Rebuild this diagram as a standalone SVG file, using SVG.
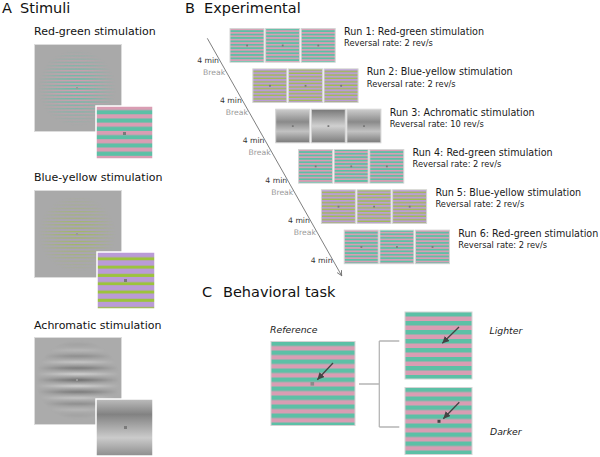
<svg xmlns="http://www.w3.org/2000/svg" width="600" height="457" viewBox="0 0 600 457">
<style>
text{font-family:"DejaVu Sans","Verdana",sans-serif;fill:#111}
.h{font-size:14.5px}
.s{font-size:11px}
.rt{font-size:9.6px;fill:#1a1a1a}
.rs{font-size:8.3px;fill:#1a1a1a}
.min{font-size:7.7px;fill:#333;text-anchor:end}
.brk{font-size:7.7px;fill:#999;text-anchor:end}
.it{font-size:9.3px;font-style:italic;fill:#222}
.thumb{stroke:#d4d4d4;stroke-width:1}
.big{stroke:#dcdcdc;stroke-width:1}
.sm{stroke:#fff;stroke-width:1.5}
.dot{fill:#777}
.tl{stroke:#707070;stroke-width:0.9;fill:none}
.br{stroke:#b5b5b5;stroke-width:1.3;fill:none}
.ar{stroke:#444;stroke-width:1.3;fill:none}
</style>
<defs>
<marker id="ah" markerUnits="userSpaceOnUse" markerWidth="8" markerHeight="7" refX="7" refY="3.5" orient="auto"><path d="M0,0 L7,3.5 L0,7 z" fill="#444"/></marker>
<marker id="ahT" markerUnits="userSpaceOnUse" markerWidth="6" markerHeight="6" refX="5" refY="3" orient="auto"><path d="M0,0.5 L5,3 L0,5.5" fill="none" stroke="#707070" stroke-width="0.9"/></marker>
<!-- A small squares -->
<pattern id="rgA" patternUnits="userSpaceOnUse" x="0" y="106" width="10" height="8.3"><rect width="10" height="8.3" fill="#d99db3"/><rect y="4.15" width="10" height="4.15" fill="#5cc0a6"/></pattern>
<pattern id="byA" patternUnits="userSpaceOnUse" x="0" y="252" width="10" height="8.3"><rect width="10" height="8.3" fill="#ba9bd7"/><rect y="5.3" width="10" height="3" fill="#9cc33c"/></pattern>
<!-- A gabor stripes -->
<pattern id="rgF" patternUnits="userSpaceOnUse" x="0" y="86.5" width="10" height="3.3"><rect width="10" height="3.3" fill="#a9a9a9"/><rect y="0" width="10" height="1.3" fill="#d99db3"/><rect y="1.65" width="10" height="1.3" fill="#5cc0a6"/></pattern>
<pattern id="byF" patternUnits="userSpaceOnUse" x="0" y="232.5" width="10" height="3.3"><rect width="10" height="3.3" fill="#ad9fc0"/><rect y="1.65" width="10" height="1.2" fill="#9cc33c"/></pattern>
<linearGradient id="sinG" x1="0" y1="0" x2="0" y2="1"><stop offset="0" stop-color="#d4d4d4"/><stop offset="0.5" stop-color="#6c6c6c"/><stop offset="1" stop-color="#d4d4d4"/></linearGradient>
<pattern id="achF" patternUnits="userSpaceOnUse" x="0" y="374" width="10" height="12"><rect width="10" height="12" fill="url(#sinG)"/></pattern>
<radialGradient id="rad" cx="0.5" cy="0.5" r="0.5"><stop offset="0" stop-color="#fff"/><stop offset="0.45" stop-color="#999"/><stop offset="1" stop-color="#000"/></radialGradient>
<mask id="env" maskContentUnits="objectBoundingBox"><rect width="1" height="1" fill="url(#rad)"/></mask>
<linearGradient id="achA" x1="0" y1="0" x2="0" y2="1"><stop offset="0" stop-color="#bdbdbd"/><stop offset="0.27" stop-color="#828282"/><stop offset="0.68" stop-color="#cbcbcb"/><stop offset="1" stop-color="#8d8d8d"/></linearGradient>
<!-- B thumbnails -->
<pattern id="rgS" patternUnits="userSpaceOnUse" x="0" y="28.6" width="10" height="3.4"><rect width="10" height="3.4" fill="#d99db3"/><rect y="1.7" width="10" height="1.7" fill="#5cc0a6"/></pattern>
<pattern id="rgSi" patternUnits="userSpaceOnUse" x="0" y="28.6" width="10" height="3.4"><rect width="10" height="3.4" fill="#5cc0a6"/><rect y="1.7" width="10" height="1.7" fill="#d99db3"/></pattern>
<pattern id="byS" patternUnits="userSpaceOnUse" x="0" y="28.6" width="10" height="3.4"><rect width="10" height="3.4" fill="#ba9bd7"/><rect y="2.1" width="10" height="1.2" fill="#9cc33c"/></pattern>
<pattern id="bySi" patternUnits="userSpaceOnUse" x="0" y="28.6" width="10" height="3.4"><rect width="10" height="3.4" fill="#ba9bd7"/><rect y="0.4" width="10" height="1.2" fill="#9cc33c"/></pattern>
<linearGradient id="ach1" x1="0" y1="0" x2="0" y2="1"><stop offset="0" stop-color="#cdcdcd"/><stop offset="0.38" stop-color="#8a8a8a"/><stop offset="0.66" stop-color="#c2c2c2"/><stop offset="1" stop-color="#7a7a7a"/></linearGradient>
<linearGradient id="ach2" x1="0" y1="0" x2="0" y2="1"><stop offset="0" stop-color="#777"/><stop offset="0.5" stop-color="#d0d0d0"/><stop offset="1" stop-color="#7c7c7c"/></linearGradient>
<!-- C squares -->
<pattern id="rgC1" patternUnits="userSpaceOnUse" x="0" y="341.5" width="10" height="9"><rect width="10" height="9" fill="#5cc0a6"/><rect y="4.5" width="10" height="4.5" fill="#d99db3"/></pattern>
<pattern id="rgC2" patternUnits="userSpaceOnUse" x="0" y="312" width="10" height="9"><rect width="10" height="9" fill="#5cc0a6"/><rect y="4.5" width="10" height="4.5" fill="#d99db3"/></pattern>
<pattern id="rgC3" patternUnits="userSpaceOnUse" x="0" y="387.5" width="10" height="9"><rect width="10" height="9" fill="#5cc0a6"/><rect y="4.5" width="10" height="4.5" fill="#d99db3"/></pattern>
</defs>

<!-- Panel titles -->
<text class="h" x="2" y="13">A</text><text class="h" x="20" y="13">Stimuli</text>
<text class="h" x="185" y="13">B</text><text class="h" x="204" y="13">Experimental</text>
<text class="h" x="202" y="297">C</text><text class="h" x="223" y="297">Behavioral task</text>

<!-- Panel A -->
<g id="stim-red-green">
<text class="s" x="34" y="35">Red-green stimulation</text>
<rect class="big" x="34.5" y="44.5" width="87" height="87" fill="#a9a9a9"/>
<rect x="38" y="50" width="78" height="76" fill="url(#rgF)" mask="url(#env)"/>
<rect x="76" y="87" width="2" height="2" fill="#999"/>
<rect class="sm" x="96" y="106" width="57" height="53" fill="url(#rgA)"/>
<rect x="123" y="132" width="3" height="3" fill="#7a7a7a"/>
</g>
<g id="stim-blue-yellow">
<text class="s" x="34" y="181">Blue-yellow stimulation</text>
<rect class="big" x="34.5" y="190.5" width="87" height="87" fill="#a9a9a9"/>
<rect x="38" y="196" width="78" height="76" fill="url(#byF)" mask="url(#env)" opacity="0.8"/>
<rect x="76" y="233" width="2" height="2" fill="#999"/>
<rect class="sm" x="97" y="252" width="58" height="57" fill="url(#byA)"/>
<rect x="124" y="279" width="3" height="3" fill="#7a7a7a"/>
</g>
<g id="stim-achromatic">
<text class="s" x="34" y="329">Achromatic stimulation</text>
<rect class="big" x="34.5" y="337.5" width="87" height="87" fill="#ababab"/>
<rect x="36" y="340" width="84" height="80" fill="url(#achF)" mask="url(#env)"/>
<rect x="76" y="379" width="2" height="2" fill="#999"/>
<rect class="sm" x="96" y="399" width="57" height="57" fill="url(#achA)"/>
<rect x="124" y="426" width="3" height="3" fill="#7a7a7a"/>
</g>

<!-- Panel B runs -->
<g id="run1">
<rect class="thumb" x="230" y="28.6" width="34" height="33.6" fill="url(#rgS)"/>
<rect class="thumb" x="265.6" y="28.6" width="34" height="33.6" fill="url(#rgSi)"/>
<rect class="thumb" x="301.2" y="28.6" width="34" height="33.6" fill="url(#rgS)"/>
<g class="dot"><rect x="246.2" y="44.6" width="1.8" height="1.8"/><rect x="281.8" y="44.6" width="1.8" height="1.8"/><rect x="317.4" y="44.6" width="1.8" height="1.8"/></g>
<text class="rt" x="344" y="35">Run 1: Red-green stimulation</text>
<text class="rs" x="344" y="46.3">Reversal rate: 2 rev/s</text>
</g>
<g id="run2" transform="translate(22.85,40.3)">
<rect class="thumb" x="230" y="28.6" width="34" height="33.6" fill="url(#byS)"/>
<rect class="thumb" x="265.6" y="28.6" width="34" height="33.6" fill="url(#bySi)"/>
<rect class="thumb" x="301.2" y="28.6" width="34" height="33.6" fill="url(#byS)"/>
<g class="dot"><rect x="246.2" y="44.6" width="1.8" height="1.8"/><rect x="281.8" y="44.6" width="1.8" height="1.8"/><rect x="317.4" y="44.6" width="1.8" height="1.8"/></g>
<text class="rt" x="344" y="35">Run 2: Blue-yellow stimulation</text>
<text class="rs" x="344" y="46.3">Reversal rate: 2 rev/s</text>
</g>
<g id="run3" transform="translate(45.7,80.6)">
<rect class="thumb" x="230" y="28.6" width="34" height="33.6" fill="url(#ach1)"/>
<rect class="thumb" x="265.6" y="28.6" width="34" height="33.6" fill="url(#ach2)"/>
<rect class="thumb" x="301.2" y="28.6" width="34" height="33.6" fill="url(#ach1)"/>
<g class="dot"><rect x="246.2" y="44.6" width="1.8" height="1.8"/><rect x="281.8" y="44.6" width="1.8" height="1.8"/><rect x="317.4" y="44.6" width="1.8" height="1.8"/></g>
<text class="rt" x="344" y="35">Run 3: Achromatic stimulation</text>
<text class="rs" x="344" y="46.3">Reversal rate: 10 rev/s</text>
</g>
<g id="run4" transform="translate(68.55,120.9)">
<rect class="thumb" x="230" y="28.6" width="34" height="33.6" fill="url(#rgS)"/>
<rect class="thumb" x="265.6" y="28.6" width="34" height="33.6" fill="url(#rgSi)"/>
<rect class="thumb" x="301.2" y="28.6" width="34" height="33.6" fill="url(#rgS)"/>
<g class="dot"><rect x="246.2" y="44.6" width="1.8" height="1.8"/><rect x="281.8" y="44.6" width="1.8" height="1.8"/><rect x="317.4" y="44.6" width="1.8" height="1.8"/></g>
<text class="rt" x="344" y="35">Run 4: Red-green stimulation</text>
<text class="rs" x="344" y="46.3">Reversal rate: 2 rev/s</text>
</g>
<g id="run5" transform="translate(91.4,161.2)">
<rect class="thumb" x="230" y="28.6" width="34" height="33.6" fill="url(#byS)"/>
<rect class="thumb" x="265.6" y="28.6" width="34" height="33.6" fill="url(#bySi)"/>
<rect class="thumb" x="301.2" y="28.6" width="34" height="33.6" fill="url(#byS)"/>
<g class="dot"><rect x="246.2" y="44.6" width="1.8" height="1.8"/><rect x="281.8" y="44.6" width="1.8" height="1.8"/><rect x="317.4" y="44.6" width="1.8" height="1.8"/></g>
<text class="rt" x="344" y="35">Run 5: Blue-yellow stimulation</text>
<text class="rs" x="344" y="46.3">Reversal rate: 2 rev/s</text>
</g>
<g id="run6" transform="translate(114.25,201.5)">
<rect class="thumb" x="230" y="28.6" width="34" height="33.6" fill="url(#rgS)"/>
<rect class="thumb" x="265.6" y="28.6" width="34" height="33.6" fill="url(#rgSi)"/>
<rect class="thumb" x="301.2" y="28.6" width="34" height="33.6" fill="url(#rgS)"/>
<g class="dot"><rect x="246.2" y="44.6" width="1.8" height="1.8"/><rect x="281.8" y="44.6" width="1.8" height="1.8"/><rect x="317.4" y="44.6" width="1.8" height="1.8"/></g>
<text class="rt" x="344" y="35">Run 6: Red-green stimulation</text>
<text class="rs" x="344" y="46.3">Reversal rate: 2 rev/s</text>
</g>

<!-- Timeline labels -->
<g id="timeline-labels">
<text class="min" x="219" y="62.5">4 min</text>
<text class="brk" x="225.2" y="75">Break</text>
<text class="min" x="241.8" y="102.6">4 min</text>
<text class="brk" x="247.9" y="115.1">Break</text>
<text class="min" x="264.5" y="142.7">4 min</text>
<text class="brk" x="270.6" y="155.2">Break</text>
<text class="min" x="287.2" y="182.8">4 min</text>
<text class="brk" x="293.3" y="195.3">Break</text>
<text class="min" x="309.9" y="222.9">4 min</text>
<text class="brk" x="316" y="235.4">Break</text>
<text class="min" x="332.6" y="263">4 min</text>
</g>

<!-- Panel C -->
<g id="reference">
<text class="it" x="270" y="333">Reference</text>
<rect x="271" y="341.5" width="84" height="84" fill="url(#rgC1)" stroke="#d4d4d4" stroke-width="1"/>
<rect x="310.5" y="382" width="3.6" height="3.6" fill="#8a8a8a"/>
</g>
<g id="lighter">
<rect x="405" y="312" width="67" height="67" fill="url(#rgC2)" stroke="#d4d4d4" stroke-width="1"/>
<text class="it" x="489.5" y="334">Lighter</text>
</g>
<g id="darker">
<rect x="405" y="387.5" width="67" height="67" fill="url(#rgC3)" stroke="#d4d4d4" stroke-width="1"/>
<rect x="437.5" y="419.8" width="3" height="3" fill="#444"/>
<text class="it" x="490" y="435">Darker</text>
</g>

<!-- Connectors -->
<g id="connectors">
<line class="tl" x1="207.3" y1="38.3" x2="341.7" y2="275.7" marker-end="url(#ahT)"/>
<path class="br" d="M359,384 H379.3 M379.3,341 V427 M379.3,341 H399.3 M379.3,427 H399.3"/>
<line class="ar" x1="333" y1="363" x2="317.3" y2="379.7" marker-end="url(#ah)"/>
<line class="ar" x1="459" y1="327" x2="442.3" y2="343.3" marker-end="url(#ah)"/>
<line class="ar" x1="459.3" y1="402.3" x2="443.3" y2="418.7" marker-end="url(#ah)"/>
</g>
</svg>
